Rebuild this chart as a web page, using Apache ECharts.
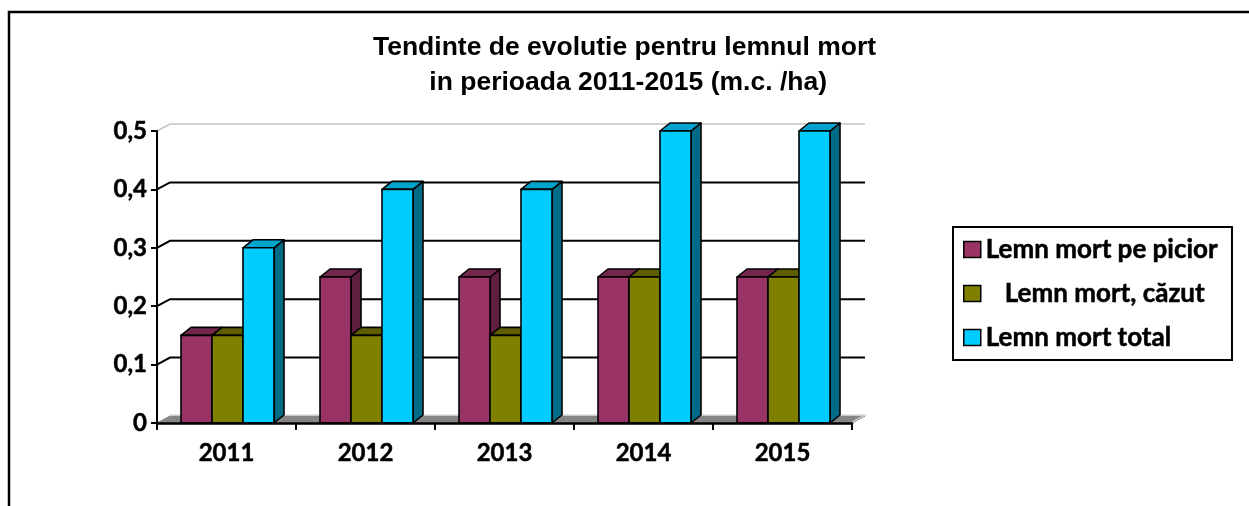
<!DOCTYPE html>
<html>
<head>
<meta charset="utf-8">
<script src="https://cdn.jsdelivr.net/npm/echarts@6/dist/echarts.min.js"></script>
<style>
  html, body { margin: 0; padding: 0; background: #fff; }
  #chart { width: 1249px; height: 506px; }
</style>
</head>
<body>
<div id="chart"></div>
<script>
const years = ["2011", "2012", "2013", "2014", "2015"];
const lemnPicior = [0.15, 0.25, 0.25, 0.25, 0.25];
const lemnCazut = [0.15, 0.15, 0.15, 0.25, 0.25];
const lemnTotal = [0.3, 0.4, 0.4, 0.5, 0.5];
const yTicks = [0, 0.1, 0.2, 0.3, 0.4, 0.5];

const names = ["Lemn mort pe picior", "Lemn mort, căzut", "Lemn mort total"];
const faces = [
  { front: "#993366", top: "#74264d", side: "#5e1f3f" },
  { front: "#808000", top: "#5e5e00", side: "#4c4c00" },
  { front: "#00ccff", top: "#00a3cc", side: "#006b86" }
];

// 3d offsets (bars / back wall)
const DX = 10, DY = -8;
const WX = 13, WY = -7;

const bar3d = (idx) => (params, api) => {
  const c = api.value(0), v = api.value(1);
  const top = api.coord([c, v]);
  const base = api.coord([c, 0]);
  const band = api.size([1, 0])[0];
  const bw = band * 0.223;
  const x = top[0] + (idx - 1.5) * bw + 1;
  const yT = top[1], yB = base[1];
  const f = faces[idx];
  const line = { stroke: "#000", lineWidth: 1.6, lineJoin: "round" };
  return {
    type: "group",
    children: [
      { type: "polygon", shape: { points: [[x + bw, yT], [x + bw + DX, yT + DY], [x + bw + DX, yB + DY], [x + bw, yB]] },
        style: Object.assign({ fill: f.side }, line) },
      { type: "polygon", shape: { points: [[x, yT], [x + DX, yT + DY], [x + bw + DX, yT + DY], [x + bw, yT]] },
        style: Object.assign({ fill: f.top }, line) },
      { type: "rect", shape: { x: x, y: yT, width: bw, height: yB - yT },
        style: Object.assign({ fill: f.front }, line) }
    ]
  };
};

const wall = (params, api) => {
  const cs = params.coordSys;
  const v = api.value(1);
  const y = api.coord([0, v])[1];
  const x0 = cs.x, x1 = cs.x + cs.width;
  const max = yTicks[yTicks.length - 1];
  if (v === 0) {
    return {
      type: "group",
      children: [
        { type: "polygon", shape: { points: [[x0, y], [x0 + WX, y + WY], [x1 + WX, y + WY], [x1, y]] },
          style: { fill: "#858585", stroke: "#858585", lineWidth: 1 } },
        { type: "polyline", shape: { points: [[x0 + WX, y + WY - 1], [x1 + WX, y + WY - 1], [x1, y - 1]] },
          style: { fill: null, stroke: "#d0d0d0", lineWidth: 1.2 } }
      ]
    };
  }
  const col = v === max ? "#c4c4c4" : "#000";
  return {
    type: "polyline",
    shape: { points: [[x0, y], [x0 + WX, y + WY], [x1 + WX, y + WY]] },
    style: { fill: null, stroke: col, lineWidth: v === max ? 1.5 : 2 }
  };
};

const series = [{
  type: "custom",
  name: "wall",
  renderItem: wall,
  data: yTicks.map(v => [0, v]),
  encode: { x: 0, y: 1 },
  z: 1,
  silent: true
}];
[lemnPicior, lemnCazut, lemnTotal].forEach((vals, i) => {
  series.push({
    type: "custom",
    name: names[i],
    renderItem: bar3d(i),
    data: vals.map((v, k) => [k, v]),
    encode: { x: 0, y: 1 },
    itemStyle: { color: faces[i].front },
    z: 2 + i
  });
});

// heavier bold text, like the original
const boldText = { textBorderColor: "#000", textBorderWidth: 0.5 };

const chart = echarts.init(document.getElementById("chart"));
chart.setOption({
  animation: false,
  backgroundColor: "#fff",
  title: {
    text: "Tendinte de evolutie pentru lemnul mort\n in perioada 2011-2015 (m.c. /ha)",
    left: "center",
    top: 25,
    textStyle: {
      fontFamily: "Liberation Sans, Arial, sans-serif",
      fontWeight: "bold",
      fontSize: 26.5,
      lineHeight: 35,
      color: "#000"
    }
  },
  legend: {
    data: names,
    orient: "vertical",
    left: 953,
    top: 227,
    padding: [9, 14, 9, 10],
    itemWidth: 17,
    itemHeight: 16,
    itemGap: 17,
    icon: "rect",
    borderColor: "#000",
    borderWidth: 2,
    itemStyle: { borderColor: "#000", borderWidth: 1.5 },
    formatter: name => name === names[1] ? "   " + name : name,
    textStyle: Object.assign({
      fontFamily: "Lato, sans-serif",
      fontWeight: "bold",
      fontSize: 26,
      lineHeight: 27,
      color: "#000"
    }, boldText)
  },
  grid: { left: 157, right: 397, top: 131, bottom: 83 },
  xAxis: {
    type: "category",
    data: years,
    axisLine: { lineStyle: { color: "#000", width: 2.5 } },
    axisTick: { show: true, length: 7, lineStyle: { color: "#000", width: 2 } },
    axisLabel: Object.assign({
      margin: 18,
      color: "#000",
      fontFamily: "Lato, sans-serif",
      fontWeight: "bold",
      fontSize: 24
    }, boldText),
    splitLine: { show: false },
    z: 10
  },
  yAxis: {
    type: "value",
    min: 0,
    max: 0.5,
    interval: 0.1,
    axisLine: { show: true, lineStyle: { color: "#000", width: 2 } },
    axisTick: { show: true, length: 6, lineStyle: { color: "#000", width: 2 } },
    axisLabel: Object.assign({
      margin: 10,
      color: "#000",
      fontFamily: "Lato, sans-serif",
      fontWeight: "bold",
      fontSize: 24,
      formatter: v => String(+v.toFixed(1)).replace(".", ",")
    }, boldText),
    splitLine: { show: false },
    z: 10
  },
  graphic: [{
    type: "polyline",
    shape: { points: [[1249, 12], [9, 12], [9, 506]] },
    style: { fill: null, stroke: "#000", lineWidth: 2.5 },
    silent: true
  }],
  series: series
});
</script>
</body>
</html>
